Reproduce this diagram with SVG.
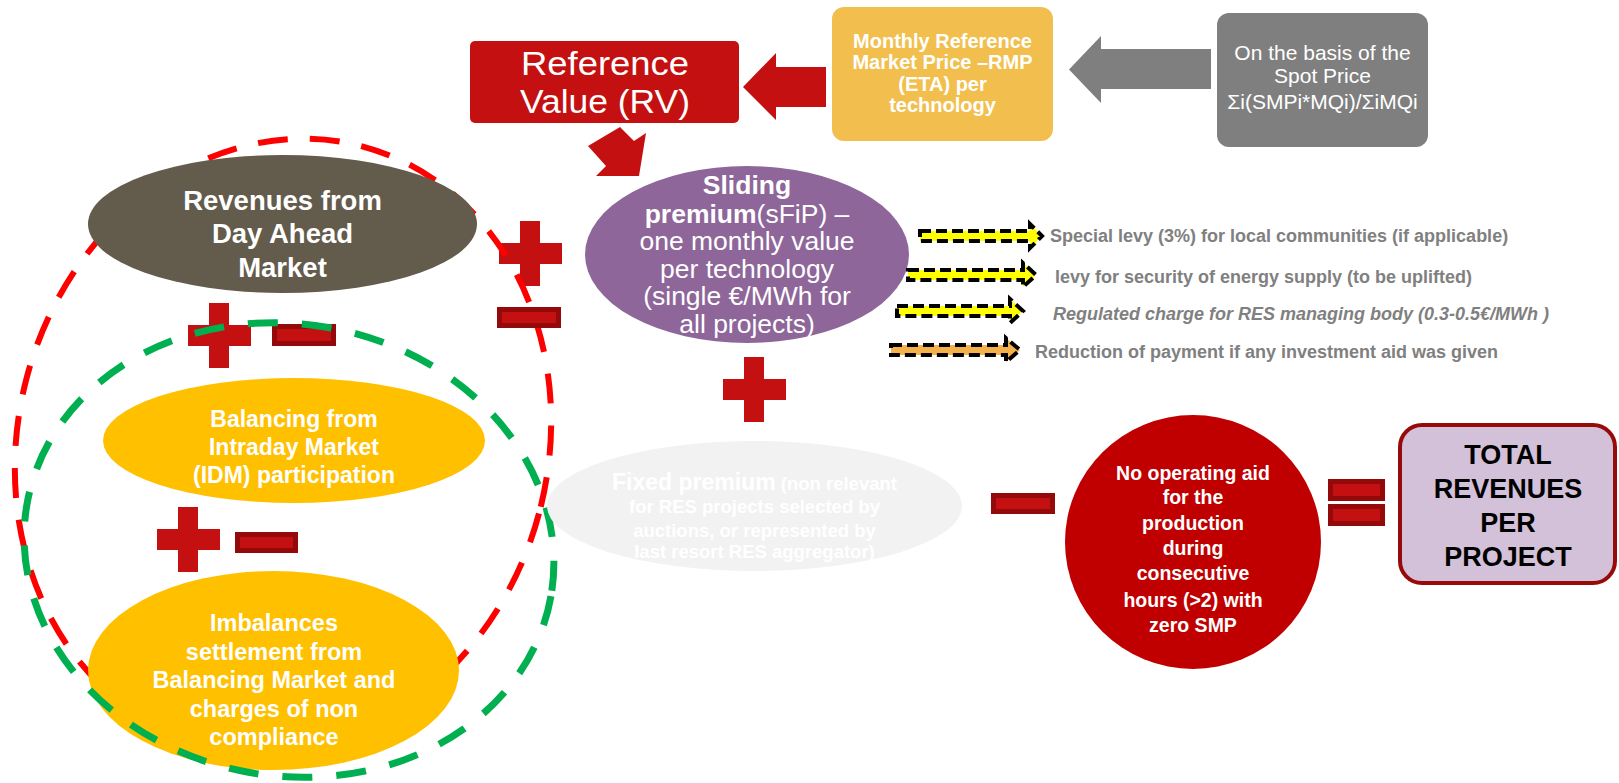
<svg xmlns="http://www.w3.org/2000/svg" width="1619" height="783" viewBox="0 0 1619 783">
<style>
text{font-family:"Liberation Sans",Arial,sans-serif;text-anchor:middle}
.w{fill:#FFFFFF}
.b{font-weight:bold}
.plus{fill:#C41010}
.minus{fill:#C41010;stroke:#940A0A;stroke-width:5}
.lev{fill:#808080;font-weight:bold;font-size:18px;text-anchor:start}
.sa{stroke:#000000;stroke-width:4;stroke-dasharray:11 5}
</style>
<defs>
<path id="plusShape" d="M21,0 h20 v22 h22 v21 h-22 v22 h-20 v-22 h-21 v-21 h21 z"/>
</defs>
<rect width="1619" height="783" fill="#FFFFFF"/>

<g id="op-plus-1"><use href="#plusShape" class="plus" transform="translate(499,221)"/></g>

<g id="red-dashed-group">
<ellipse cx="283" cy="445" rx="265" ry="309" transform="rotate(15 283 445)" fill="none" stroke="#FF0000" stroke-width="6" stroke-dasharray="30 22"/>
</g>

<g id="node-dam">
<ellipse cx="282.5" cy="224" rx="194.5" ry="69" fill="#635B4B"/>
<text class="w b" font-size="27.5" x="282.5" y="210">Revenues from</text>
<text class="w b" font-size="27.5" x="282.5" y="243">Day Ahead</text>
<text class="w b" font-size="27.5" x="282.5" y="277">Market</text>
</g>

<g id="node-idm">
<ellipse cx="294" cy="440.5" rx="191" ry="62.5" fill="#FFC000"/>
<text class="w b" font-size="23" x="294" y="427">Balancing from</text>
<text class="w b" font-size="23" x="294" y="455">Intraday Market</text>
<text class="w b" font-size="23" x="294" y="483">(IDM) participation</text>
</g>

<g id="node-imbalances">
<ellipse cx="273.5" cy="670.5" rx="185.5" ry="99.5" fill="#FFC000"/>
<text class="w b" font-size="23.5" x="274" y="631">Imbalances</text>
<text class="w b" font-size="23.5" x="274" y="660">settlement from</text>
<text class="w b" font-size="23.5" x="274" y="688">Balancing Market and</text>
<text class="w b" font-size="23.5" x="274" y="717">charges of non</text>
<text class="w b" font-size="23.5" x="274" y="745">compliance</text>
</g>

<g id="operators">
<rect class="minus" x="499.5" y="309.5" width="59" height="16"/>
<use href="#plusShape" class="plus" transform="translate(188,303)"/>
<rect class="minus" x="274.5" y="326.5" width="59" height="17"/>
<use href="#plusShape" class="plus" transform="translate(157,507)"/>
<rect class="minus" x="237.5" y="534.5" width="58" height="16"/>
<use href="#plusShape" class="plus" transform="translate(723,357)"/>
<rect class="minus" x="993.5" y="495.5" width="59" height="16"/>
<rect class="minus" x="1330.5" y="481.5" width="52" height="17"/>
<rect class="minus" x="1330.5" y="506.5" width="52" height="17"/>
</g>

<g id="green-dashed-group">
<ellipse cx="289" cy="550" rx="266" ry="226" transform="rotate(10 289 550)" fill="none" stroke="#00B050" stroke-width="7" stroke-dasharray="30 24"/>
</g>

<g id="node-rv">
<rect x="470" y="41" width="269" height="82" rx="5" fill="#C41010"/>
<text class="w" font-size="33" x="605" y="75" textLength="168" lengthAdjust="spacingAndGlyphs">Reference</text>
<text class="w" font-size="33" x="605" y="113" textLength="170" lengthAdjust="spacingAndGlyphs">Value (RV)</text>
</g>

<g id="node-rmp">
<rect x="832" y="7" width="221" height="134" rx="12" fill="#F2BF4E"/>
<text class="w b" font-size="20" x="942.5" y="48">Monthly Reference</text>
<text class="w b" font-size="20" x="942.5" y="69">Market Price –RMP</text>
<text class="w b" font-size="20" x="942.5" y="91">(ETA) per</text>
<text class="w b" font-size="20" x="942.5" y="112">technology</text>
</g>

<g id="node-spot">
<rect x="1217" y="13" width="211" height="134" rx="12" fill="#7F7F7F"/>
<text class="w" font-size="21" x="1322.5" y="60">On the basis of the</text>
<text class="w" font-size="21" x="1322.5" y="83">Spot Price</text>
<text class="w" font-size="21" x="1322.5" y="109">Σi(SMPi*MQi)/ΣiMQi</text>
</g>

<g id="node-sfip">
<ellipse cx="747" cy="254.5" rx="162" ry="88.5" fill="#8E6699"/>
<text class="w b" font-size="26.5" x="747" y="194">Sliding</text>
<text class="w" font-size="26.5" x="747" y="222.5"><tspan font-weight="bold">premium</tspan>(sFiP) –</text>
<text class="w" font-size="26.5" x="747" y="250">one monthly value</text>
<text class="w" font-size="26.5" x="747" y="277.5">per technology</text>
<text class="w" font-size="26.5" x="747" y="305">(single €/MWh for</text>
<text class="w" font-size="26.5" x="747" y="332.5">all projects)</text>
</g>

<g id="node-fip">
<ellipse cx="754.5" cy="506" rx="207.5" ry="65" fill="#F2F2F2"/>
<text class="w b" x="754.5" y="490"><tspan font-size="23">Fixed premium</tspan><tspan font-size="18.5"> (non relevant</tspan></text>
<text class="w b" font-size="18.5" x="754.5" y="513">for RES projects selected by</text>
<text class="w b" font-size="18.5" x="754.5" y="537">auctions, or represented by</text>
<text class="w b" font-size="18.5" x="754.5" y="558">last resort RES aggregator)</text>
</g>

<g id="node-noaid">
<ellipse cx="1193" cy="542" rx="128" ry="127" fill="#C00000"/>
<text class="w b" font-size="19.5" x="1193" y="480">No operating aid</text>
<text class="w b" font-size="19.5" x="1193" y="504">for the</text>
<text class="w b" font-size="19.5" x="1193" y="530">production</text>
<text class="w b" font-size="19.5" x="1193" y="555">during</text>
<text class="w b" font-size="19.5" x="1193" y="580">consecutive</text>
<text class="w b" font-size="19.5" x="1193" y="607">hours (&gt;2) with</text>
<text class="w b" font-size="19.5" x="1193" y="632">zero SMP</text>
</g>

<g id="node-total">
<rect x="1400" y="425" width="215" height="158" rx="22" fill="#D3C0D9" stroke="#960A0A" stroke-width="4"/>
<text class="b" font-size="27" fill="#000000" x="1508" y="464">TOTAL</text>
<text class="b" font-size="27" fill="#000000" x="1508" y="498">REVENUES</text>
<text class="b" font-size="27" fill="#000000" x="1508" y="532">PER</text>
<text class="b" font-size="27" fill="#000000" x="1508" y="566">PROJECT</text>
</g>

<g id="connectors">
<path d="M826,67 H776 V53 L743,87 L776,120 V107 H826 Z" fill="#C41010"/>
<path d="M1211,49 H1101 V36 L1069,69.5 L1101,103 V89 H1211 Z" fill="#7F7F7F"/>
<polygon points="588,146 620,127 634,141 646,133 639,176 596,176 606,166" fill="#C41010"/>
<path class="sa" d="M920,231 H1030 V224 L1042,236 L1030,248 V241 H920 Z" fill="#FFFF00"/>
<path class="sa" d="M908,270 H1023 V263 L1036,275 L1023,287 V280 H908 Z" fill="#FFFF00"/>
<path class="sa" d="M897,306 H1010 V299 L1023,311 L1010,323 V316 H897 Z" fill="#FFFF00"/>
<path class="sa" d="M891,345 H1006 V338 L1020,350 L1006,362 V355 H891 Z" fill="#F4B14B"/>
</g>

<g id="levy-labels">
<text class="lev" x="1050" y="242">Special levy (3%) for local communities (if applicable)</text>
<text class="lev" x="1055" y="283">levy for security of energy supply (to be uplifted)</text>
<text class="lev" x="1053" y="320" font-style="italic">Regulated charge for RES managing body (0.3-0.5€/MWh )</text>
<text class="lev" x="1035" y="358">Reduction of payment if any investment aid was given</text>
</g>
</svg>
